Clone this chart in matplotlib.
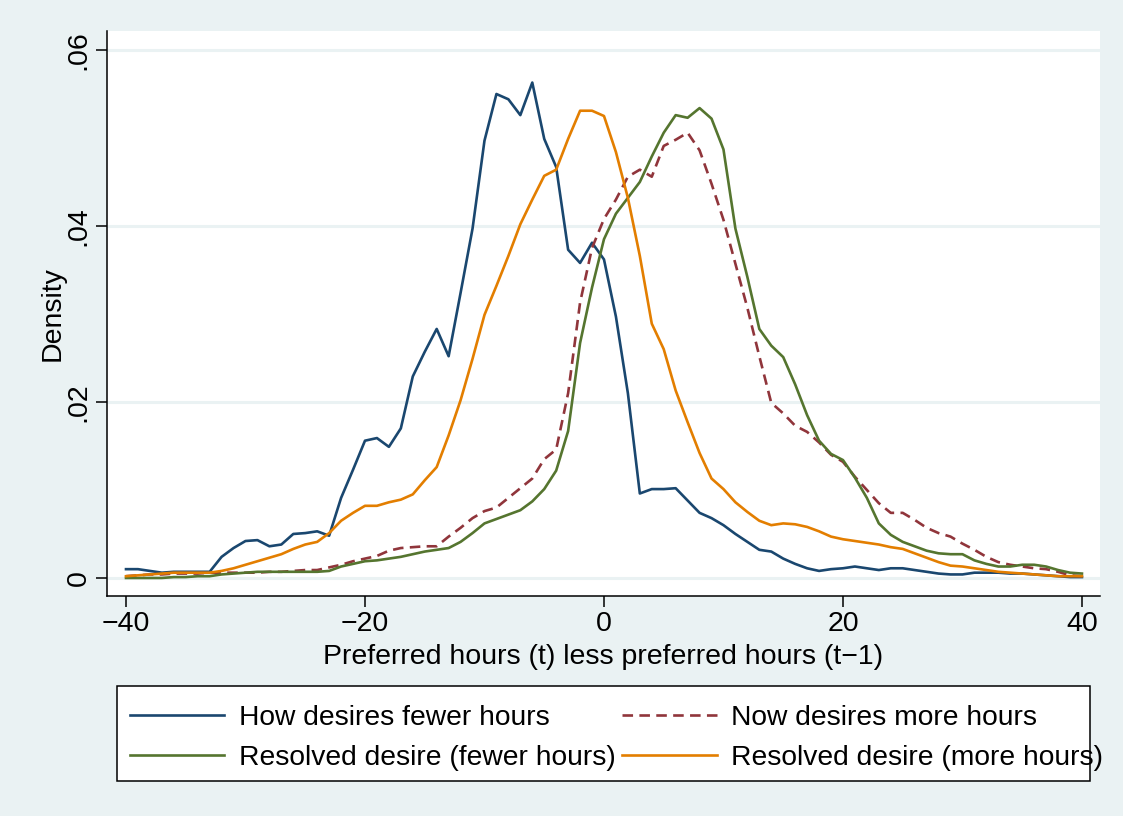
import matplotlib
matplotlib.use("Agg")
import matplotlib.pyplot as plt
from matplotlib.patches import Rectangle
import numpy as np

plt.rcParams["font.family"] = ["Liberation Sans", "DejaVu Sans"]

# hours change grid, -40 .. 40
hours = np.arange(-40, 41)

fewer_now = [
    0.0010, 0.0010, 0.0008, 0.0006, 0.0007, 0.0007, 0.0007, 0.0007, 0.0024, 0.0034,
    0.0042, 0.0043, 0.0036, 0.0038, 0.0050, 0.0051, 0.0053, 0.0048, 0.0091, 0.0123,
    0.0156, 0.0159, 0.0149, 0.0170, 0.0229, 0.0257, 0.0283, 0.0252, 0.0324, 0.0397,
    0.0497, 0.0550, 0.0544, 0.0526, 0.0563, 0.0499, 0.0467, 0.0373, 0.0358, 0.0381,
    0.0362, 0.0297, 0.0210, 0.0096, 0.0101, 0.0101, 0.0102, 0.0088, 0.0074, 0.0068,
    0.0060, 0.0050, 0.0041, 0.0032, 0.0030, 0.0022, 0.0016, 0.0011, 0.0008, 0.0010,
    0.0011, 0.0013, 0.0011, 0.0009, 0.0011, 0.0011, 0.0009, 0.0007, 0.0005, 0.0004,
    0.0004, 0.0006, 0.0006, 0.0006, 0.0005, 0.0005, 0.0004, 0.0003, 0.0002, 0.0001,
    0.0001,
]

more_now = [
    0.0002, 0.0003, 0.0004, 0.0004, 0.0005, 0.0005, 0.0005, 0.0006, 0.0006, 0.0006,
    0.0006, 0.0006, 0.0007, 0.0007, 0.0008, 0.0009, 0.0009, 0.0012, 0.0015, 0.0019,
    0.0022, 0.0025, 0.0031, 0.0034, 0.0035, 0.0036, 0.0036, 0.0047, 0.0057, 0.0068,
    0.0076, 0.0080, 0.0091, 0.0102, 0.0113, 0.0135, 0.0146, 0.0210, 0.0313, 0.0375,
    0.0408, 0.0430, 0.0456, 0.0464, 0.0456, 0.0491, 0.0498, 0.0506, 0.0486, 0.0448,
    0.0407, 0.0357, 0.0307, 0.0252, 0.0199, 0.0187, 0.0173, 0.0166, 0.0154, 0.0140,
    0.0132, 0.0115, 0.0100, 0.0085, 0.0074, 0.0074, 0.0066, 0.0057, 0.0051, 0.0047,
    0.0039, 0.0032, 0.0024, 0.0018, 0.0015, 0.0013, 0.0011, 0.0010, 0.0007, 0.0003,
    0.0002,
]

resolved_fewer = [
    0.0000, 0.0000, 0.0000, 0.0000, 0.0001, 0.0001, 0.0002, 0.0002, 0.0004, 0.0005,
    0.0006, 0.0007, 0.0007, 0.0007, 0.0007, 0.0007, 0.0007, 0.0008, 0.0013, 0.0016,
    0.0019, 0.0020, 0.0022, 0.0024, 0.0027, 0.0030, 0.0032, 0.0034, 0.0041, 0.0051,
    0.0062, 0.0067, 0.0072, 0.0077, 0.0087, 0.0101, 0.0122, 0.0167, 0.0267, 0.0330,
    0.0385, 0.0414, 0.0432, 0.0450, 0.0479, 0.0506, 0.0526, 0.0523, 0.0534, 0.0522,
    0.0487, 0.0397, 0.0342, 0.0283, 0.0264, 0.0251, 0.0220, 0.0185, 0.0156, 0.0141,
    0.0134, 0.0114, 0.0091, 0.0062, 0.0049, 0.0041, 0.0036, 0.0031, 0.0028, 0.0027,
    0.0027, 0.0020, 0.0016, 0.0013, 0.0013, 0.0015, 0.0015, 0.0013, 0.0009, 0.0006,
    0.0005,
]

resolved_more = [
    0.0002, 0.0003, 0.0004, 0.0005, 0.0006, 0.0006, 0.0006, 0.0006, 0.0008, 0.0011,
    0.0015, 0.0019, 0.0023, 0.0027, 0.0033, 0.0038, 0.0041, 0.0051, 0.0065, 0.0074,
    0.0082, 0.0082, 0.0086, 0.0089, 0.0095, 0.0111, 0.0126, 0.0162, 0.0202, 0.0249,
    0.0299, 0.0332, 0.0366, 0.0402, 0.0430, 0.0457, 0.0464, 0.0499, 0.0531, 0.0531,
    0.0525, 0.0484, 0.0432, 0.0366, 0.0289, 0.0260, 0.0213, 0.0177, 0.0142, 0.0113,
    0.0101, 0.0086, 0.0075, 0.0065, 0.0060, 0.0062, 0.0061, 0.0058, 0.0053, 0.0047,
    0.0044, 0.0042, 0.0040, 0.0038, 0.0035, 0.0033, 0.0028, 0.0023, 0.0018, 0.0014,
    0.0013, 0.0011, 0.0009, 0.0007, 0.0006, 0.0005, 0.0004, 0.0003, 0.0002, 0.0002,
    0.0002,
]

labels = [
    "How desires fewer hours",
    "Now desires more hours",
    "Resolved desire (fewer hours)",
    "Resolved desire (more hours)",
]
xticks = [-40, -20, 0, 20, 40]
yticks = [0, 0.02, 0.04, 0.06]
ytick_labels = ["0", ".02", ".04", ".06"]

bg = "#EAF2F3"
navy = "#1A476F"
maroon = "#90353B"
green = "#55752F"
orange = "#E37E00"

fig = plt.figure(figsize=(11.23, 8.16), dpi=100, facecolor=bg)
ax = fig.add_axes([107 / 1123, 1 - 596 / 816, (1100 - 107) / 1123, (596 - 31) / 816])
ax.set_facecolor("white")

lw = 1.9
l1, = ax.plot(hours, fewer_now, color=navy, lw=lw)
l2, = ax.plot(hours, more_now, color=maroon, lw=lw, dashes=(4, 2.4))
l3, = ax.plot(hours, resolved_fewer, color=green, lw=lw)
l4, = ax.plot(hours, resolved_more, color=orange, lw=lw)

ax.set_xlim(-41.59, 41.51)
ax.set_ylim(-0.00205, 0.06216)

ax.set_yticks(yticks)
ax.set_yticklabels(ytick_labels, rotation=90, va="center")
ax.set_xticks(xticks)
ax.set_xticklabels(["\u221240", "\u221220", "0", "20", "40"])
ax.tick_params(axis="both", labelsize=20.5, length=8, width=1.1, color="black", pad=3)
ax.grid(axis="y", color=bg, lw=2.2)
ax.set_axisbelow(True)

for side in ["top", "right"]:
    ax.spines[side].set_visible(False)
for side in ["left", "bottom"]:
    ax.spines[side].set_color("black")
    ax.spines[side].set_linewidth(1.1)

ax.set_xlabel("Preferred hours (t) less preferred hours (t\u22121)", fontsize=20.5, labelpad=5)
ax.set_ylabel("Density", fontsize=20.5, labelpad=0)

# legend box
fig.patches.append(Rectangle((117 / 1123, 1 - 781 / 816), (1090 - 117) / 1123, (781 - 686) / 816,
                             transform=fig.transFigure, facecolor="white", edgecolor="black", lw=1.1))
fig.legend([l1, l3, l2, l4], [labels[0], labels[2], labels[1], labels[3]], ncol=2,
           loc="upper left", bbox_to_anchor=(130 / 1123, 1 - 705 / 816), frameon=False,
           fontsize=20.3, handlelength=3.35, handletextpad=0.5, columnspacing=0.25,
           labelspacing=0.5, borderpad=0, borderaxespad=0)

fig.savefig("out.png", dpi=100, facecolor=bg)
